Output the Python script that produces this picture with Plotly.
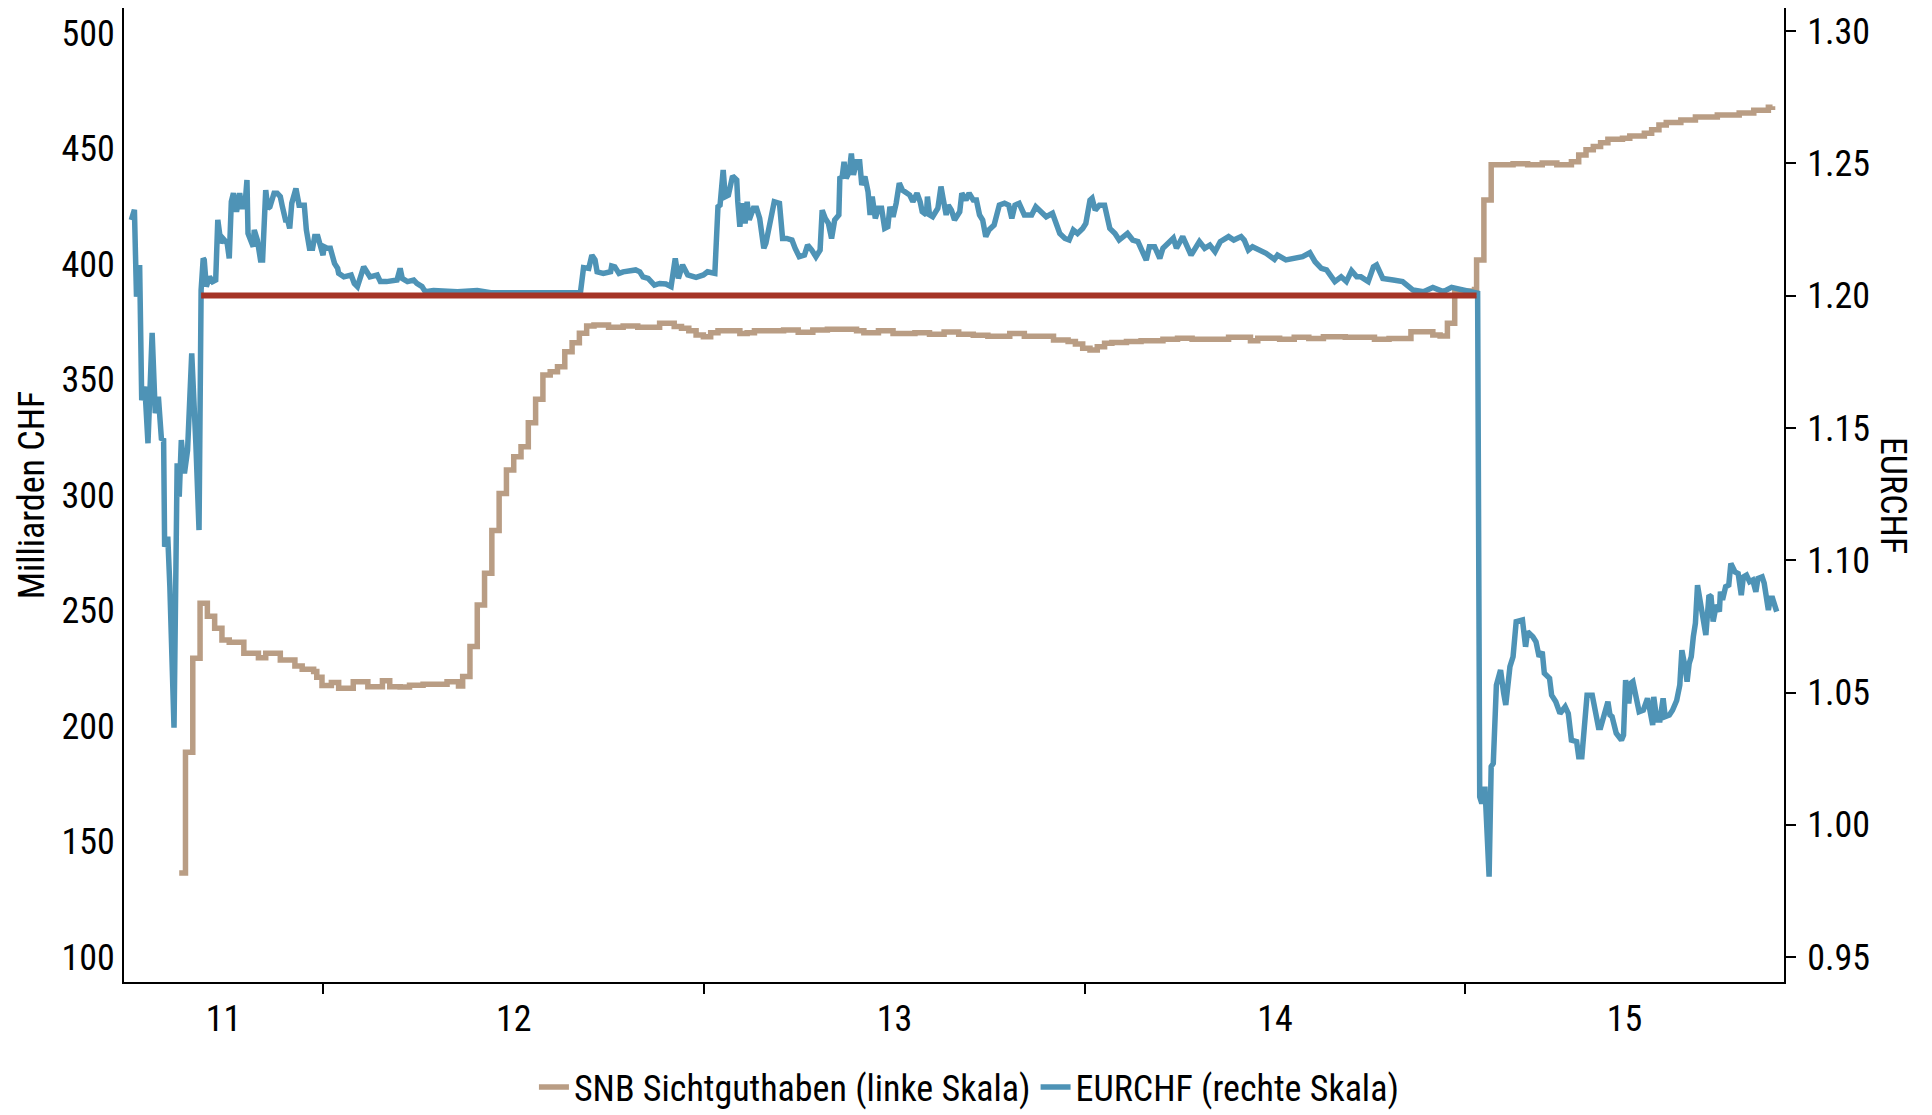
import pandas as pd
import plotly.graph_objects as go

# ---------------- data ----------------
eur_dates = [
    "2011-07-01", "2011-07-04", "2011-07-06", "2011-07-09", "2011-07-11", "2011-07-14", "2011-07-17", "2011-07-21",
    "2011-07-24", "2011-07-27", "2011-07-30", "2011-08-01", "2011-08-02", "2011-08-05", "2011-08-07", "2011-08-11",
    "2011-08-14", "2011-08-16", "2011-08-18", "2011-08-21", "2011-08-24", "2011-08-28", "2011-09-01", "2011-09-03",
    "2011-09-04", "2011-09-06", "2011-09-08", "2011-09-09", "2011-09-11", "2011-09-14", "2011-09-17", "2011-09-20",
    "2011-09-22", "2011-09-25", "2011-09-27", "2011-10-01", "2011-10-03", "2011-10-05", "2011-10-07", "2011-10-10",
    "2011-10-13", "2011-10-15", "2011-10-18", "2011-10-20", "2011-10-21", "2011-10-26", "2011-10-27", "2011-10-30",
    "2011-11-02", "2011-11-04", "2011-11-07", "2011-11-09", "2011-11-11", "2011-11-15", "2011-11-18", "2011-11-21",
    "2011-11-23", "2011-11-26", "2011-11-28", "2011-11-30", "2011-12-02", "2011-12-06", "2011-12-09", "2011-12-14",
    "2011-12-16", "2011-12-19", "2011-12-22", "2011-12-24", "2011-12-27", "2011-12-30", "2012-01-01", "2012-01-02",
    "2012-01-05", "2012-01-08", "2012-01-12", "2012-01-15", "2012-01-16", "2012-01-21", "2012-01-28", "2012-01-31",
    "2012-02-03", "2012-02-06", "2012-02-09", "2012-02-12", "2012-02-15", "2012-02-22", "2012-02-25", "2012-03-02",
    "2012-03-09", "2012-03-12", "2012-03-15", "2012-03-17", "2012-03-22", "2012-03-28", "2012-03-31", "2012-04-05",
    "2012-04-08", "2012-04-16", "2012-05-09", "2012-05-28", "2012-06-10", "2012-07-12", "2012-08-03", "2012-09-04",
    "2012-09-07", "2012-09-12", "2012-09-15", "2012-09-18", "2012-09-20", "2012-09-26", "2012-10-03", "2012-10-04",
    "2012-10-07", "2012-10-11", "2012-10-15", "2012-10-27", "2012-10-31", "2012-11-03", "2012-11-08", "2012-11-14",
    "2012-11-19", "2012-11-25", "2012-11-30", "2012-12-04", "2012-12-07", "2012-12-11", "2012-12-16", "2012-12-24",
    "2012-12-31", "2013-01-04", "2013-01-11", "2013-01-14", "2013-01-16", "2013-01-19", "2013-01-21", "2013-01-24",
    "2013-01-28", "2013-02-01", "2013-02-02", "2013-02-04", "2013-02-06", "2013-02-09", "2013-02-11", "2013-02-13",
    "2013-02-17", "2013-02-20", "2013-02-23", "2013-02-27", "2013-03-01", "2013-03-06", "2013-03-09", "2013-03-14",
    "2013-03-17", "2013-03-21", "2013-03-26", "2013-03-29", "2013-04-02", "2013-04-07", "2013-04-10", "2013-04-14",
    "2013-04-18", "2013-04-22", "2013-04-24", "2013-04-27", "2013-04-30", "2013-05-03", "2013-05-06", "2013-05-10",
    "2013-05-11", "2013-05-13", "2013-05-15", "2013-05-17", "2013-05-20", "2013-05-22", "2013-05-24", "2013-05-27",
    "2013-05-30", "2013-06-01", "2013-06-04", "2013-06-07", "2013-06-09", "2013-06-11", "2013-06-14", "2013-06-17",
    "2013-06-20", "2013-06-23", "2013-06-26", "2013-06-28", "2013-07-01", "2013-07-04", "2013-07-07", "2013-07-10",
    "2013-07-14", "2013-07-17", "2013-07-20", "2013-07-24", "2013-07-27", "2013-07-29", "2013-08-02", "2013-08-03",
    "2013-08-05", "2013-08-08", "2013-08-13", "2013-08-16", "2013-08-18", "2013-08-21", "2013-08-23", "2013-08-26",
    "2013-08-29", "2013-09-03", "2013-09-05", "2013-09-09", "2013-09-12", "2013-09-16", "2013-09-19", "2013-09-22",
    "2013-09-25", "2013-09-28", "2013-10-01", "2013-10-06", "2013-10-11", "2013-10-16", "2013-10-20", "2013-10-23",
    "2013-10-26", "2013-10-30", "2013-11-04", "2013-11-11", "2013-11-15", "2013-11-20", "2013-11-25", "2013-12-01",
    "2013-12-05", "2013-12-08", "2013-12-13", "2013-12-17", "2013-12-21", "2013-12-25", "2013-12-30", "2014-01-02",
    "2014-01-06", "2014-01-08", "2014-01-11", "2014-01-15", "2014-01-20", "2014-01-25", "2014-01-30", "2014-02-03",
    "2014-02-11", "2014-02-16", "2014-02-21", "2014-02-26", "2014-03-01", "2014-03-04", "2014-03-09", "2014-03-14",
    "2014-03-17", "2014-03-27", "2014-03-30", "2014-04-05", "2014-04-13", "2014-04-21", "2014-04-26", "2014-05-01",
    "2014-05-06", "2014-05-11", "2014-05-19", "2014-05-24", "2014-05-31", "2014-06-03", "2014-06-07", "2014-06-11",
    "2014-06-18", "2014-06-24", "2014-07-02", "2014-07-05", "2014-07-13", "2014-07-23", "2014-07-29", "2014-08-05",
    "2014-08-10", "2014-08-16", "2014-08-21", "2014-08-29", "2014-09-04", "2014-09-09", "2014-09-14", "2014-09-19",
    "2014-09-23", "2014-09-30", "2014-10-05", "2014-10-08", "2014-10-14", "2014-10-24", "2014-11-02", "2014-11-12",
    "2014-11-22", "2014-12-01", "2014-12-11", "2014-12-19", "2014-12-27", "2015-01-05", "2015-01-13", "2015-01-15",
    "2015-01-17", "2015-01-20", "2015-01-22", "2015-01-24", "2015-01-26", "2015-01-28", "2015-01-31", "2015-02-04",
    "2015-02-07", "2015-02-09", "2015-02-13", "2015-02-16", "2015-02-19", "2015-02-25", "2015-02-28", "2015-03-02",
    "2015-03-07", "2015-03-10", "2015-03-13", "2015-03-16", "2015-03-18", "2015-03-23", "2015-03-25", "2015-03-29",
    "2015-04-02", "2015-04-07", "2015-04-10", "2015-04-12", "2015-04-13", "2015-04-18", "2015-04-20", "2015-04-23",
    "2015-04-25", "2015-04-26", "2015-04-28", "2015-05-03", "2015-05-06", "2015-05-09", "2015-05-11", "2015-05-13",
    "2015-05-15", "2015-05-18", "2015-05-20", "2015-05-22", "2015-05-26", "2015-05-31", "2015-06-02", "2015-06-04",
    "2015-06-07", "2015-06-09", "2015-06-11", "2015-06-15", "2015-06-17", "2015-06-21", "2015-06-25", "2015-06-27",
    "2015-06-30", "2015-07-01", "2015-07-04", "2015-07-07", "2015-07-10", "2015-07-12", "2015-07-16", "2015-07-19",
    "2015-07-23", "2015-07-26", "2015-07-28", "2015-07-31", "2015-08-02", "2015-08-04", "2015-08-06", "2015-08-08",
    "2015-08-10", "2015-08-12", "2015-08-14", "2015-08-18", "2015-08-20", "2015-08-23", "2015-08-25", "2015-08-27",
    "2015-08-30", "2015-09-02", "2015-09-03", "2015-09-05", "2015-09-08", "2015-09-11", "2015-09-13", "2015-09-17",
    "2015-09-20", "2015-09-23", "2015-09-25", "2015-09-28", "2015-10-01", "2015-10-04", "2015-10-07", "2015-10-09",
    "2015-10-13", "2015-10-15", "2015-10-19", "2015-10-21", "2015-10-23", "2015-10-27",
]
eur_values = [
    1.2286, 1.2324, 1.1996, 1.2116, 1.1605, 1.1656, 1.1442, 1.1859,
    1.1556, 1.1618, 1.1454, 1.1460, 1.1051, 1.1089, 1.0900, 1.0367,
    1.1366, 1.1240, 1.1454, 1.1328, 1.1416, 1.1782, 1.1436, 1.1127,
    1.1114, 1.2021, 1.2141, 1.2135, 1.2034, 1.2071, 1.2053, 1.2059,
    1.2286, 1.2198, 1.2216, 1.2198, 1.2141, 1.2355, 1.2387, 1.2317,
    1.2387, 1.2336, 1.2336, 1.2437, 1.2235, 1.2185, 1.2248, 1.2210,
    1.2135, 1.2135, 1.2399, 1.2330, 1.2336, 1.2387, 1.2387, 1.2374,
    1.2336, 1.2286, 1.2286, 1.2254, 1.2349, 1.2405, 1.2342, 1.2342,
    1.2248, 1.2179, 1.2179, 1.2223, 1.2223, 1.2185, 1.2153, 1.2185,
    1.2179, 1.2179, 1.2122, 1.2103, 1.2084, 1.2071, 1.2078, 1.2046,
    1.2034, 1.2071, 1.2109, 1.2090, 1.2071, 1.2078, 1.2053, 1.2053,
    1.2059, 1.2059, 1.2103, 1.2065, 1.2053, 1.2059, 1.2046, 1.2034,
    1.2015, 1.2019, 1.2015, 1.2019, 1.2011, 1.2012, 1.2015, 1.2011,
    1.2106, 1.2103, 1.2153, 1.2135, 1.2090, 1.2084, 1.2090, 1.2112,
    1.2109, 1.2084, 1.2090, 1.2097, 1.2090, 1.2071, 1.2065, 1.2040,
    1.2046, 1.2044, 1.2034, 1.2141, 1.2065, 1.2116, 1.2078, 1.2069,
    1.2078, 1.2090, 1.2084, 1.2336, 1.2342, 1.2475, 1.2374, 1.2380,
    1.2452, 1.2437, 1.2355, 1.2260, 1.2349, 1.2273, 1.2355, 1.2286,
    1.2330, 1.2330, 1.2292, 1.2179, 1.2198, 1.2305, 1.2355, 1.2349,
    1.2216, 1.2216, 1.2210, 1.2179, 1.2147, 1.2153, 1.2191, 1.2172,
    1.2147, 1.2172, 1.2323, 1.2292, 1.2273, 1.2216, 1.2286, 1.2305,
    1.2450, 1.2443, 1.2506, 1.2443, 1.2468, 1.2537, 1.2456, 1.2506,
    1.2506, 1.2418, 1.2450, 1.2393, 1.2305, 1.2374, 1.2292, 1.2330,
    1.2330, 1.2254, 1.2260, 1.2336, 1.2298, 1.2349, 1.2425, 1.2399,
    1.2387, 1.2380, 1.2355, 1.2387, 1.2355, 1.2317, 1.2305, 1.2374,
    1.2305, 1.2298, 1.2330, 1.2412, 1.2368, 1.2305, 1.2342, 1.2323,
    1.2286, 1.2317, 1.2387, 1.2361, 1.2387, 1.2361, 1.2361, 1.2305,
    1.2286, 1.2223, 1.2248, 1.2267, 1.2342, 1.2349, 1.2342, 1.2292,
    1.2342, 1.2349, 1.2305, 1.2305, 1.2336, 1.2317, 1.2298, 1.2311,
    1.2273, 1.2235, 1.2216, 1.2210, 1.2248, 1.2235, 1.2254, 1.2273,
    1.2361, 1.2368, 1.2323, 1.2342, 1.2342, 1.2254, 1.2235, 1.2210,
    1.2235, 1.2210, 1.2204, 1.2166, 1.2134, 1.2185, 1.2185, 1.2141,
    1.2179, 1.2217, 1.2179, 1.2223, 1.2153, 1.2204, 1.2179, 1.2191,
    1.2166, 1.2204, 1.2223, 1.2210, 1.2223, 1.2210, 1.2172, 1.2185,
    1.2172, 1.2160, 1.2137, 1.2153, 1.2135, 1.2141, 1.2147, 1.2162,
    1.2128, 1.2103, 1.2097, 1.2053, 1.2071, 1.2053, 1.2094, 1.2071,
    1.2071, 1.2053, 1.2109, 1.2116, 1.2065, 1.2059, 1.2053, 1.2021,
    1.2015, 1.2031, 1.2015, 1.2031, 1.2024, 1.2021, 1.2009, 1.0106,
    1.0081, 1.0144, 0.9993, 0.9804, 1.0220, 1.0232, 1.0528, 1.0585,
    1.0497, 1.0453, 1.0598, 1.0635, 1.0768, 1.0774, 1.0673, 1.0730,
    1.0711, 1.0692, 1.0635, 1.0654, 1.0573, 1.0554, 1.0490, 1.0465,
    1.0421, 1.0446, 1.0421, 1.0370, 1.0320, 1.0314, 1.0257, 1.0257,
    1.0358, 1.0364, 1.0490, 1.0490, 1.0433, 1.0368, 1.0368, 1.0396,
    1.0415, 1.0465, 1.0415, 1.0409, 1.0346, 1.0320, 1.0339, 1.0547,
    1.0459, 1.0535, 1.0541, 1.0470, 1.0427, 1.0433, 1.0478, 1.0440,
    1.0377, 1.0484, 1.0396, 1.0396, 1.0478, 1.0409, 1.0415, 1.0433,
    1.0470, 1.0528, 1.0660, 1.0598, 1.0541, 1.0610, 1.0635, 1.0711,
    1.0762, 1.0906, 1.0862, 1.0786, 1.0717, 1.0868, 1.0862, 1.0768,
    1.0831, 1.0806, 1.0881, 1.0850, 1.0900, 1.0906, 1.0988, 1.0956,
    1.0950, 1.0868, 1.0937, 1.0944, 1.0919, 1.0925, 1.0881, 1.0931,
    1.0937, 1.0913, 1.0812, 1.0856, 1.0856, 1.0806,
]

snb_dates = [
    "2011-08-16", "2011-08-22", "2011-08-29", "2011-09-05", "2011-09-12", "2011-09-19", "2011-09-26", "2011-10-03",
    "2011-10-17", "2011-10-31", "2011-11-07", "2011-11-21", "2011-12-05", "2011-12-12", "2011-12-23", "2011-12-26",
    "2011-12-31", "2012-01-09", "2012-01-16", "2012-01-30", "2012-02-13", "2012-02-27", "2012-03-05", "2012-03-15",
    "2012-03-24", "2012-04-06", "2012-04-29", "2012-05-10", "2012-05-14", "2012-05-21", "2012-05-28", "2012-06-04",
    "2012-06-11", "2012-06-18", "2012-06-25", "2012-07-02", "2012-07-09", "2012-07-16", "2012-07-23", "2012-07-30",
    "2012-08-06", "2012-08-13", "2012-08-20", "2012-08-27", "2012-09-03", "2012-09-10", "2012-09-17", "2012-10-01",
    "2012-10-15", "2012-10-29", "2012-11-19", "2012-12-03", "2012-12-10", "2012-12-17", "2012-12-24", "2012-12-31",
    "2013-01-07", "2013-01-14", "2013-02-04", "2013-02-11", "2013-02-18", "2013-03-18", "2013-04-01", "2013-04-15",
    "2013-04-29", "2013-05-27", "2013-06-03", "2013-06-17", "2013-07-01", "2013-07-22", "2013-08-05", "2013-08-19",
    "2013-09-02", "2013-09-16", "2013-09-30", "2013-10-21", "2013-11-04", "2013-12-02", "2013-12-16", "2013-12-23",
    "2013-12-30", "2014-01-06", "2014-01-13", "2014-01-20", "2014-01-27", "2014-02-10", "2014-02-24", "2014-03-17",
    "2014-03-31", "2014-04-14", "2014-05-19", "2014-06-09", "2014-06-16", "2014-07-07", "2014-07-21", "2014-08-04",
    "2014-08-18", "2014-09-08", "2014-10-06", "2014-10-20", "2014-11-10", "2014-12-01", "2014-12-08", "2014-12-15",
    "2014-12-22", "2015-01-05", "2015-01-10", "2015-01-12", "2015-01-19", "2015-01-26", "2015-02-16", "2015-03-02",
    "2015-03-16", "2015-03-30", "2015-04-13", "2015-04-20", "2015-04-27", "2015-05-04", "2015-05-11", "2015-05-18",
    "2015-06-01", "2015-06-08", "2015-06-22", "2015-06-29", "2015-07-06", "2015-07-13", "2015-07-27", "2015-08-10",
    "2015-08-31", "2015-09-21", "2015-10-05", "2015-10-19", "2015-10-23",
]
snb_values = [
    136.4, 188.6, 229.3, 253.1, 247.5, 242.3, 237.2, 236.3,
    231.5, 229.5, 231.5, 228.6, 226.0, 224.6, 223.6, 221.1,
    217.5, 218.8, 216.3, 219.2, 217.0, 219.6, 217.0, 216.9,
    217.7, 218.1, 219.2, 217.3, 221.4, 234.4, 252.4, 266.1,
    284.6, 300.7, 310.8, 316.6, 320.9, 331.3, 341.4, 351.9,
    353.3, 355.5, 362.0, 365.9, 370.0, 373.2, 373.6, 372.6,
    373.2, 372.6, 374.3, 372.9, 372.2, 371.1, 369.3, 368.5,
    370.2, 371.1, 369.9, 370.2, 371.1, 371.4, 370.5, 371.4,
    371.7, 371.1, 370.2, 371.1, 369.9, 370.2, 369.6, 370.6,
    369.6, 369.2, 368.7, 369.9, 368.7, 367.1, 366.4, 365.4,
    363.5, 362.8, 364.2, 365.7, 366.0, 366.4, 366.8, 367.4,
    367.8, 367.4, 368.3, 366.8, 367.8, 367.4, 368.3, 367.7,
    368.5, 368.3, 367.4, 367.7, 370.7, 369.3, 368.8, 374.3,
    387.9, 388.3, 389.0, 401.7, 427.7, 442.9, 443.4, 442.9,
    443.7, 442.9, 444.3, 447.2, 449.4, 450.9, 452.5, 454.0,
    454.4, 455.4, 456.6, 458.1, 460.2, 461.2, 462.3, 463.6,
    464.5, 465.4, 466.5, 467.8, 468.3,
]

floor_dates = ["2011-09-06", "2015-01-12"]
floor_values = [1.20, 1.20]

year_starts = ["2012-01-01", "2013-01-01", "2014-01-01", "2015-01-01"]
year_labels = ["11", "12", "13", "14", "15"]
label_years = [2011, 2012, 2013, 2014, 2015]
x_range = ["2011-06-24", "2015-11-03"]

left_ticks = [100, 150, 200, 250, 300, 350, 400, 450, 500]
left_range = [89.2, 510.8]
right_ticks = [0.95, 1.00, 1.05, 1.10, 1.15, 1.20, 1.25, 1.30]
right_range = [0.9406, 1.3087]

# year labels sit in the middle of the visible part of each year
x0, x1 = pd.Timestamp(x_range[0]), pd.Timestamp(x_range[1])
label_pos = []
for yr in label_years:
    a = max(x0, pd.Timestamp(f"{yr}-01-01"))
    b = min(x1, pd.Timestamp(f"{yr + 1}-01-01"))
    label_pos.append((a + (b - a) / 2).strftime("%Y-%m-%d %H:%M"))

# ---------------- style ----------------
FONT = "Roboto Condensed, Open Sans Condensed, sans-serif"
FS = 36
BEIGE = "#b99d84"
BLUE = "#4e93b6"
RED = "#a53426"
tfont = dict(family=FONT, size=FS, color="black")

fig = go.Figure()
fig.add_trace(go.Scatter(
    x=snb_dates, y=snb_values, name="SNB Sichtguthaben (linke Skala)",
    mode="lines", line=dict(color=BEIGE, width=5.5, shape="hv"), yaxis="y",
))
fig.add_trace(go.Scatter(
    x=eur_dates, y=eur_values, name="EURCHF (rechte Skala)",
    mode="lines", line=dict(color=BLUE, width=5.5), yaxis="y2",
))
fig.add_trace(go.Scatter(
    x=floor_dates, y=floor_values, name="Mindestkurs",
    mode="lines", line=dict(color=RED, width=6), yaxis="y2", showlegend=False,
))

fig.update_layout(
    width=1932, height=1115, autosize=False,
    margin=dict(l=124, r=148, t=8, b=133, autoexpand=False),
    paper_bgcolor="white", plot_bgcolor="white",
    font=tfont,
    showlegend=True,
    legend=dict(orientation="h", x=0.509, xanchor="center", y=-0.108, yanchor="middle",
                font=tfont, itemwidth=30, bgcolor="rgba(0,0,0,0)"),
    xaxis=dict(
        type="date", range=x_range, showgrid=False, zeroline=False,
        showline=True, linecolor="black", linewidth=2,
        tickmode="array", tickvals=label_pos, ticktext=year_labels, ticks="",
        ticklabelstandoff=4, tickfont=tfont,
        minor=dict(tickmode="array", tickvals=year_starts, ticks="outside", ticklen=10,
                   tickwidth=1.5, tickcolor="black", showgrid=False),
    ),
    yaxis=dict(
        range=left_range, tickmode="array", tickvals=left_ticks, ticks="",
        showgrid=False, zeroline=False, showline=True, linecolor="black", linewidth=2,
        tickfont=tfont,
        title=dict(text="Milliarden CHF", font=tfont, standoff=6),
    ),
    yaxis2=dict(
        range=right_range, overlaying="y", side="right", anchor="x",
        tickmode="array", tickvals=right_ticks, tickformat=".2f",
        ticks="outside", ticklen=10, tickwidth=1.5, tickcolor="black",
        showgrid=False, zeroline=False, showline=True, linecolor="black", linewidth=2,
        ticklabelstandoff=4, tickfont=tfont,
    ),
    annotations=[dict(
        text="EURCHF", xref="paper", yref="paper", x=1.0657, y=0.5,
        xanchor="center", yanchor="middle", showarrow=False, textangle=90, font=tfont,
    )],
)

fig.write_html("out.html", config={"displayModeBar": False},
               post_script="document.body.style.margin='0';")
